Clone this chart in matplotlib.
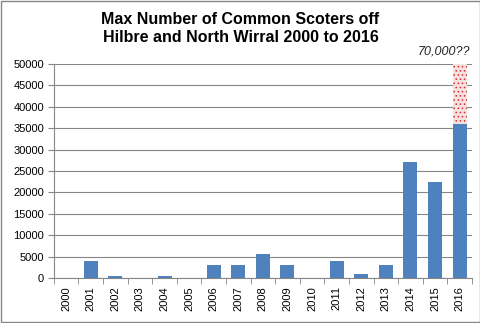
import numpy as np
import matplotlib.pyplot as plt

# Data
years = [str(y) for y in range(2000, 2017)]
counts = [0, 4000, 500, 0, 500, 0, 3000, 3000, 5600, 3000, 0, 4000, 1000, 3000, 27000, 22500, 36000]
claimed_year = "2016"
claimed_max = 70000
y_ticks = list(range(0, 50001, 5000))

plt.rcParams["hatch.linewidth"] = 0.6

fig = plt.figure(figsize=(4.81, 3.23), dpi=100)
ax = fig.add_axes([0.112, 0.139, 0.869, 0.663])

x = np.arange(len(years))
ax.bar(x, counts, width=0.57, color="#4F81BD", zorder=3)

# speculative upper estimate (dotted)
i = years.index(claimed_year)
ax.bar(x[i], claimed_max - counts[i], bottom=counts[i], width=0.57,
       facecolor="#F4E1E0", edgecolor="#D03030", hatch="....", linewidth=0, zorder=2)
ax.text(x[i] + 0.45, 51500, "70,000??", ha="right", va="bottom",
        fontsize=9, style="italic", family="Liberation Sans", color="#222222")

ax.set_xlim(-0.5, len(years) - 0.5)
ax.set_ylim(0, 50000)
ax.set_yticks(y_ticks)
ax.set_yticklabels([str(v) for v in y_ticks], family="Liberation Sans", fontsize=8)
ax.set_xticks(x)
ax.set_xticklabels(years, rotation=90, family="Liberation Sans", fontsize=8)
ax.set_xticks(np.arange(-0.5, len(years)), minor=True)
ax.tick_params(axis="x", which="major", length=0, pad=6)
ax.tick_params(axis="x", which="minor", length=4, color="#868686")
ax.tick_params(axis="y", length=4, color="#868686", pad=3)

ax.yaxis.grid(True, color="#868686", linewidth=0.8, zorder=0)
for s in ["top", "right"]:
    ax.spines[s].set_visible(False)
for s in ["left", "bottom"]:
    ax.spines[s].set_color("#868686")

fig.suptitle("Max Number of Common Scoters off\nHilbre and North Wirral 2000 to 2016",
             y=0.962, fontsize=11.5, fontweight="bold",
             family="Liberation Sans", linespacing=1.2)

fig.patches.append(plt.Rectangle((0.002, 0.003), 0.995, 0.994, transform=fig.transFigure,
                                 fill=False, edgecolor="#868686", linewidth=1))

fig.savefig("out.png", dpi=100)
